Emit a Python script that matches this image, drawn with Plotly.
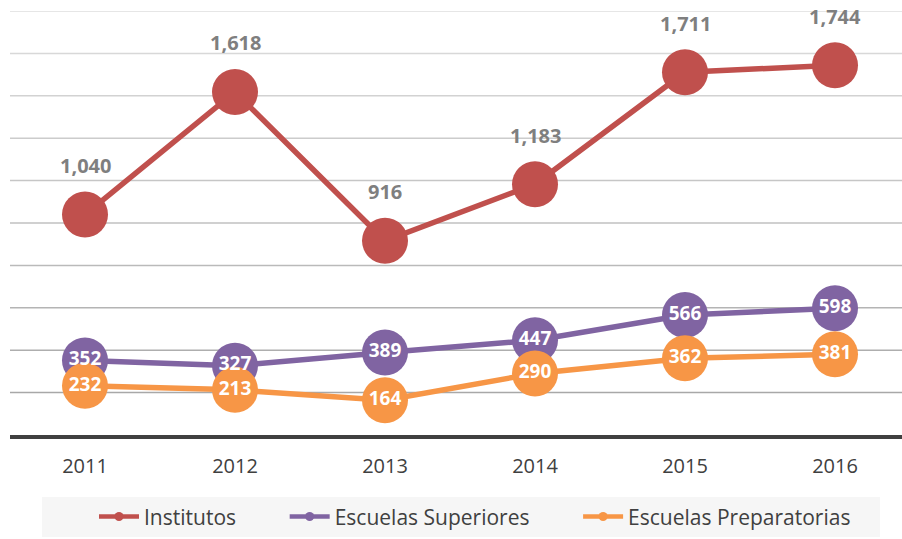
import plotly.graph_objects as go

years = ["2011", "2012", "2013", "2014", "2015", "2016"]
institutos = [1040, 1618, 916, 1183, 1711, 1744]
superiores = [352, 327, 389, 447, 566, 598]
preparatorias = [232, 213, 164, 290, 362, 381]
series_names = ["Institutos", "Escuelas Superiores", "Escuelas Preparatorias"]
colors = ["#C0504D", "#8064A2", "#F79646"]
grid_values = [200, 400, 600, 800, 1000, 1200, 1400, 1600, 1800, 2000]

FONT = "Open Sans"
fig = go.Figure()

# lines + markers: red, purple, orange (orange on top like the reference)
for vals, c in zip([institutos, superiores, preparatorias], colors):
    fig.add_trace(go.Scatter(
        x=years, y=vals, mode="lines+markers", showlegend=False,
        line=dict(color=c, width=5.5), marker=dict(size=46, color=c),
        hoverinfo="skip"))

# white value labels on top of all markers
for vals in [superiores, preparatorias]:
    fig.add_trace(go.Scatter(
        x=years, y=vals, mode="text", showlegend=False,
        text=[f"{v:,}" for v in vals], textposition="middle center",
        textfont=dict(family=FONT, size=19, color="white", weight="bold"),
        hoverinfo="skip"))

# legend entries (trailing non-breaking spaces widen the gaps between entries)
pad = "\u00a0" * 8
for k, (name, c) in enumerate(zip(series_names, colors)):
    label = name + (pad if k < len(series_names) - 1 else "")
    fig.add_trace(go.Scatter(
        x=[None], y=[None], mode="lines+markers", name=label,
        line=dict(color=c, width=4.5), marker=dict(size=9, color=c)))

# grey labels above Institutos
for i, v in enumerate(institutos):
    fig.add_annotation(x=i, y=v, xref="x", yref="y", text=f"{v:,}", showarrow=False,
                       yshift=49,
                       font=dict(family=FONT, size=20, color="#7F7F7F", weight="bold"))

def lerp(a, b, t):
    return int(round(a + (b - a) * t))
for gv in grid_values:
    t = (gv - 200) / 1800
    g = lerp(168, 222, t)
    fig.add_shape(type="line", xref="paper", yref="y", x0=0, x1=1, y0=gv, y1=gv,
                  line=dict(color=f"rgb({g},{g},{g})", width=1.5), layer="below")

fig.add_shape(type="rect", xref="paper", yref="paper",
              x0=(42 - 10) / 892, x1=(880 - 10) / 892, y0=-0.2406, y1=-0.146,
              fillcolor="#F6F6F6", line=dict(width=0), layer="below")

fig.update_layout(
    width=902, height=539,
    margin=dict(l=10, r=0, t=11, b=104),
    plot_bgcolor="white", paper_bgcolor="white",
    font=dict(family=FONT, color="#404040"),
    xaxis=dict(type="category", range=[-0.5, 5.5 - 8 / 150], showgrid=False,
               showline=True, linecolor="#404040", linewidth=3.5, zeroline=False,
               ticks="", ticklabelstandoff=10, tickfont=dict(size=20, color="#404040")),
    yaxis=dict(range=[0, 2000], showgrid=False, zeroline=False, showticklabels=False,
               showline=False),
    legend=dict(orientation="h", x=(475 - 10) / 892, xanchor="center", y=-0.193, yanchor="middle",
                bgcolor="rgba(0,0,0,0)", font=dict(family=FONT, size=21, color="#404040"),
                itemwidth=40, tracegroupgap=0),
    showlegend=True,
)

fig.write_html("out.html", config={"displayModeBar": False},
               post_script="document.body.style.margin='0';document.body.style.overflow='hidden';")
